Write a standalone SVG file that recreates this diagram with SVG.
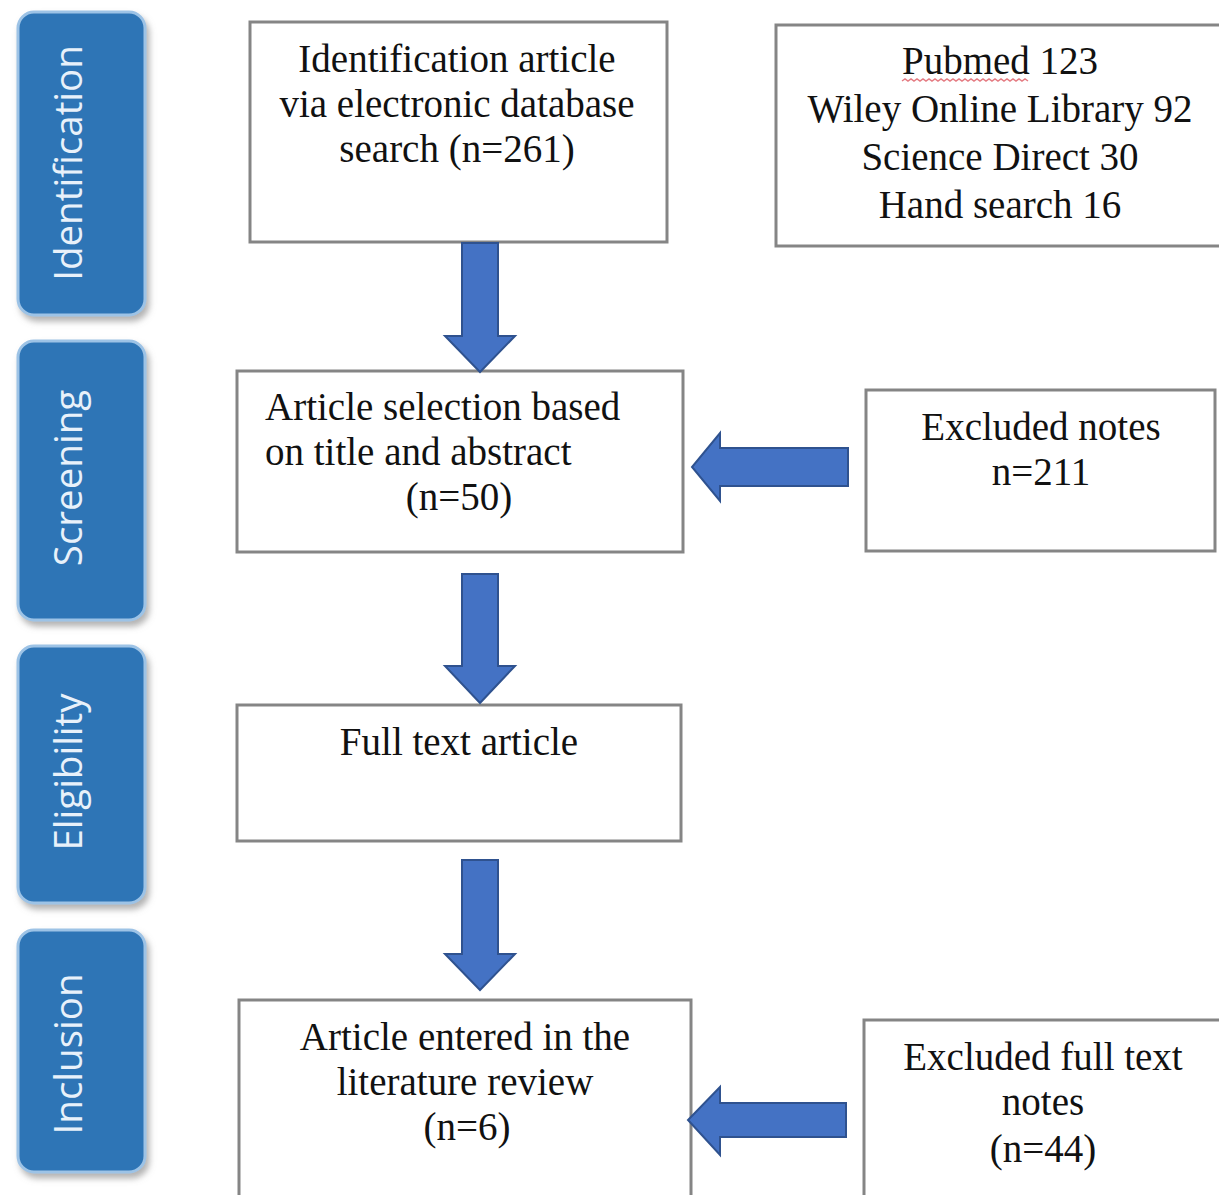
<svg xmlns="http://www.w3.org/2000/svg" width="1219" height="1195" viewBox="0 0 1219 1195">
<defs>
<filter id="sh" x="-20%" y="-10%" width="140%" height="125%">
<feDropShadow dx="3" dy="5" stdDeviation="3" flood-color="#808080" flood-opacity="0.6"/>
</filter>
</defs>
<style>
.phase rect{fill:#2E75B6;stroke:#9DC3E6;stroke-width:3;filter:url(#sh)}
.phase text{fill:#E8F1FA;font-family:"Open Sans",sans-serif;font-size:38.5px;text-anchor:middle}
.box rect{fill:#fff;stroke:#858585;stroke-width:3}
.box text{fill:#111;font-family:"Liberation Serif",serif;font-size:39px;text-anchor:middle}
.arr{fill:#4472C4;stroke:#2F528F;stroke-width:2;stroke-linejoin:miter}
</style>
<rect width="1219" height="1195" fill="#fff"/>
<g id="phase-identification" class="phase">
<rect x="18" y="12" width="127" height="303" rx="16"/>
<text transform="translate(82,163) rotate(-90)">Identification</text>
</g>
<g id="phase-screening" class="phase">
<rect x="18" y="341" width="127" height="279" rx="16"/>
<text transform="translate(82,478) rotate(-90)">Screening</text>
</g>
<g id="phase-eligibility" class="phase">
<rect x="18" y="646" width="127" height="257" rx="16"/>
<text transform="translate(82,772) rotate(-90)">Eligibility</text>
</g>
<g id="phase-inclusion" class="phase">
<rect x="18" y="930" width="127" height="242" rx="16"/>
<text transform="translate(82,1054) rotate(-90)">Inclusion</text>
</g>
<g id="identification" class="box">
<rect x="250" y="22" width="417" height="220"/>
<text x="457" y="72">Identification article</text>
<text x="457" y="117">via electronic database</text>
<text x="457" y="162">search (n=261)</text>
</g>
<g id="sources" class="box">
<rect x="776" y="25" width="450" height="221"/>
<text x="1000" y="74">Pubmed 123</text>
<path d="M902 81 l3 -2 l3 2 l3 -2 l3 2 l3 -2 l3 2 l3 -2 l3 2 l3 -2 l3 2 l3 -2 l3 2 l3 -2 l3 2 l3 -2 l3 2 l3 -2 l3 2 l3 -2 l3 2 l3 -2 l3 2 l3 -2 l3 2 l3 -2 l3 2 l3 -2 l3 2 l3 -2 l3 2 l3 -2 l3 2 l3 -2 l3 2 l3 -2 l3 2 l3 -2 l3 2 l3 -2 l3 2 l3 -2 l3 2" fill="none" stroke="#D9444F" stroke-width="1.5" opacity="0.7"/>
<text x="1000" y="122">Wiley Online Library 92</text>
<text x="1000" y="170">Science Direct 30</text>
<text x="1000" y="218">Hand search 16</text>
</g>
<g id="screening" class="box">
<rect x="237" y="371" width="446" height="181"/>
<text x="265" y="420" style="text-anchor:start">Article selection based</text>
<text x="265" y="465" style="text-anchor:start">on title and abstract</text>
<text x="459" y="510">(n=50)</text>
</g>
<g id="excluded-notes" class="box">
<rect x="866" y="390" width="349" height="161"/>
<text x="1041" y="440">Excluded notes</text>
<text x="1041" y="485">n=211</text>
</g>
<g id="fulltext" class="box">
<rect x="237" y="705" width="444" height="136"/>
<text x="459" y="755">Full text article</text>
</g>
<g id="included" class="box">
<rect x="239" y="1000" width="452" height="210"/>
<text x="465" y="1050">Article entered in the</text>
<text x="465" y="1095">literature review</text>
<text x="467" y="1140">(n=6)</text>
</g>
<g id="excluded-fulltext" class="box">
<rect x="864" y="1020" width="370" height="190"/>
<text x="1043" y="1070">Excluded full text</text>
<text x="1043" y="1115">notes</text>
<text x="1043" y="1162">(n=44)</text>
</g>
<g id="connectors">
<path class="arr" d="M462 243 H498 V336 H515 L480 372 L445 336 H462 Z"/>
<path class="arr" d="M462 574 H498 V666 H515 L480 703 L445 666 H462 Z"/>
<path class="arr" d="M462 860 H498 V954 H515 L480 990 L445 954 H462 Z"/>
<path class="arr" d="M848 448 V486 H720 V501 L692 467 L720 433 V448 Z"/>
<path class="arr" d="M846 1103 V1137 H720 V1155 L688 1120 L720 1087 V1103 Z"/>
</g>
</svg>
